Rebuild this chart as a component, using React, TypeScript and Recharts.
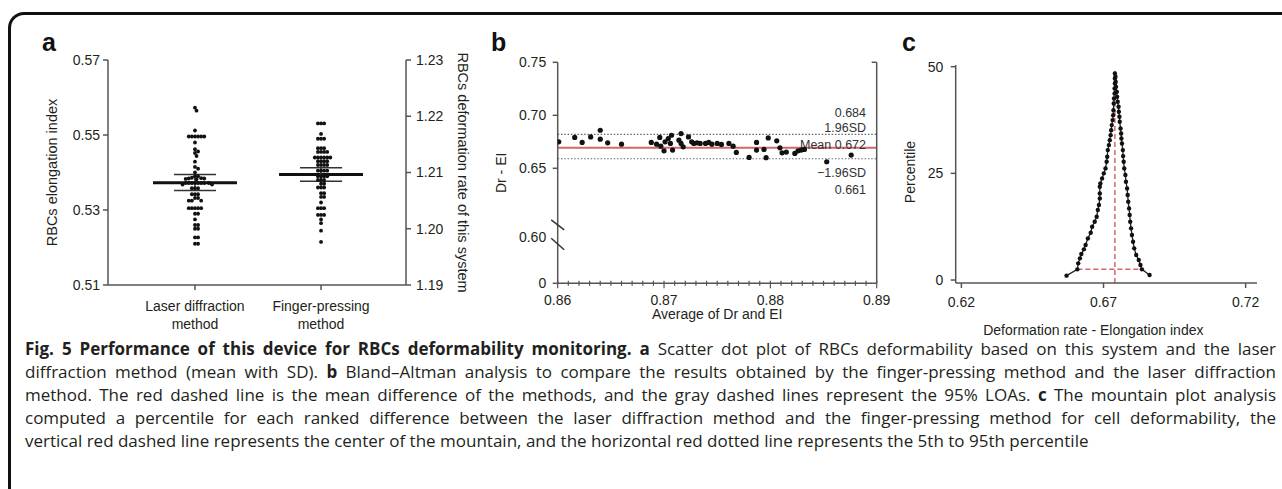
import React from 'react';
import { ComposedChart, Scatter, Line, XAxis, YAxis, ReferenceLine, Label } from 'recharts';

const TEXT = '#231f20';
const AXIS = '#555555';
const RED = '#d0686a';
const FONT = '"Liberation Sans", Arial, Helvetica, sans-serif';

// ---------------- Panel a: scatter dot plot ----------------
const groupTickLines = [
  ['Laser diffraction', 'method'],
  ['Finger-pressing', 'method'],
];
const laserEI = [
  0.5573, 0.5565, 0.5512, 0.5496, 0.5496, 0.5496, 0.5496, 0.5496, 0.5496, 0.548,
  0.5462, 0.5456, 0.5452, 0.5444, 0.5429, 0.5415, 0.541, 0.54, 0.539, 0.539,
  0.5386, 0.5385, 0.5384, 0.5384, 0.5383, 0.5382, 0.5372, 0.5372, 0.5372, 0.5372,
  0.5372, 0.5372, 0.5372, 0.5372, 0.5368, 0.5368, 0.5358, 0.5358, 0.5358, 0.5342,
  0.5342, 0.5342, 0.5332, 0.5332, 0.5325, 0.5325, 0.5325, 0.5305, 0.5305, 0.5305,
  0.5305, 0.5305, 0.529, 0.529, 0.5275, 0.526, 0.526, 0.525, 0.525, 0.5227,
  0.5227, 0.521, 0.521,
];
const fingerEI = [
  0.5531, 0.5531, 0.5531, 0.5503, 0.549, 0.549, 0.549, 0.5465, 0.5465, 0.5465,
  0.5455, 0.5455, 0.5455, 0.5455, 0.544, 0.544, 0.544, 0.544, 0.544, 0.544,
  0.543, 0.543, 0.543, 0.543, 0.542, 0.542, 0.542, 0.542, 0.5405, 0.5405,
  0.5405, 0.5405, 0.539, 0.539, 0.539, 0.539, 0.538, 0.538, 0.538, 0.537,
  0.537, 0.536, 0.536, 0.536, 0.5345, 0.5345, 0.5335, 0.5335, 0.532, 0.5305,
  0.5305, 0.5305, 0.5287, 0.5287, 0.5287, 0.5275, 0.5265, 0.5245, 0.5215,
];
const groupMean = [0.5373, 0.5395];
const groupSdLow = [0.5352, 0.5377];
const groupSdHigh = [0.5395, 0.5413];
const eiTicks = [0.51, 0.53, 0.55, 0.57];
const drTicks = [1.19, 1.2, 1.21, 1.22, 1.23];

// beeswarm layout (px metrics of panel a)
function swarm(values: number[], center: number) {
  const yPx = 3750;
  const xPx = 126.06;
  const d = 3.1;
  const placed: { x: number; y: number }[] = [];
  return [...values]
    .sort((a, b) => b - a)
    .map((v) => {
      const py = v * yPx;
      let chosen = 0;
      for (let i = 0; i < 80; i++) {
        const k = i === 0 ? 0 : (i % 2 === 1 ? 1 : -1) * Math.ceil(i / 2);
        const px = k * d * 0.5;
        if (placed.every((p) => (p.x - px) ** 2 + (p.y - py) ** 2 >= d * d)) {
          chosen = px;
          break;
        }
      }
      placed.push({ x: chosen, y: py });
      return { x: center + chosen / xPx, y: v };
    });
}
const laserPts = swarm(laserEI, 1);
const fingerPts = swarm(fingerEI, 2);

// ---------------- Panel b: Bland-Altman ----------------
const baAverage = [
  0.8601, 0.8616, 0.8623, 0.8631, 0.864, 0.864, 0.8647, 0.866, 0.8688, 0.8693,
  0.8696, 0.8697, 0.8701, 0.87, 0.8704, 0.8706, 0.8707, 0.8708, 0.8716, 0.8714,
  0.8716, 0.8718, 0.8723, 0.8726, 0.8728, 0.8731, 0.8734, 0.8739, 0.8742, 0.8745,
  0.875, 0.8754, 0.8761, 0.8765, 0.8768, 0.878, 0.8787, 0.8787, 0.8794, 0.8796,
  0.8798, 0.8806, 0.8809, 0.8811, 0.8815, 0.8823, 0.8826, 0.8829, 0.8832, 0.8853,
  0.8876,
];
const baDifference = [
  0.675, 0.6791, 0.6744, 0.6796, 0.6859, 0.6775, 0.674, 0.6728, 0.6744, 0.6728,
  0.6791, 0.6709, 0.675, 0.6665, 0.6781, 0.6735, 0.6812, 0.6672, 0.6828, 0.6765,
  0.6735, 0.6703, 0.6796, 0.675, 0.6735, 0.674, 0.6735, 0.6735, 0.6744, 0.6728,
  0.6735, 0.6725, 0.6735, 0.6709, 0.665, 0.6603, 0.6744, 0.6672, 0.6678, 0.66,
  0.6787, 0.6759, 0.6693, 0.6646, 0.6653, 0.664, 0.6665, 0.6672, 0.6678, 0.6562,
  0.6625,
];
const baUpperLimit = 0.682;
const baMeanLine = 0.6693;
const baLowerLimit = 0.659;
const baUpperText = ['0.684', '1.96SD'];
const baMeanText = ['Mean 0.672'];
const baLowerText = ['\u22121.96SD', '0.661'];
const baYTicks = [0, 0.6, 0.65, 0.7, 0.75];
const baXMajor = [0.86, 0.87, 0.88, 0.89];
const baXMinor = Array.from({ length: 31 }, (_, i) => 0.86 + i * 0.001);

// broken y axis: 0..0.60 compressed, 0.60..0.75 linear
const toBaAxis = (v: number) => (v <= 0.6 ? (v / 0.6) * 46 : 62 + (v - 0.6) * 1060);
const baTop = toBaAxis(0.75);
const baPts = baAverage.map((a, i) => ({ avg: a, d: toBaAxis(baDifference[i]) }));

// ---------------- Panel c: mountain plot ----------------
const mountainDiff = [
  0.657, 0.6608, 0.6611, 0.6617, 0.6622, 0.6631, 0.6637, 0.6645, 0.6655, 0.666,
  0.6669, 0.6676, 0.668, 0.6684, 0.6687, 0.6687, 0.6687, 0.6689, 0.6695, 0.6701,
  0.6707, 0.6711, 0.6713, 0.6715, 0.6719, 0.6722, 0.6725, 0.6727, 0.6729, 0.6732,
  0.6734, 0.6735, 0.6736, 0.6737, 0.6739, 0.6739, 0.674, 0.674, 0.674,
  0.6742, 0.6743, 0.6744, 0.6747, 0.6748, 0.675, 0.6753, 0.6754, 0.6756, 0.6757,
  0.676, 0.6762, 0.6763, 0.6765, 0.6768, 0.6769, 0.6771, 0.6773, 0.6777, 0.6779,
  0.6783, 0.6785, 0.6787, 0.679, 0.6792, 0.6794, 0.6797, 0.68, 0.6804, 0.6808,
  0.6815, 0.6824, 0.683, 0.6835, 0.6862,
];
const mountainPct = [
  1.02, 2.5, 3.91, 5.08, 6.09, 7.19, 8.2, 9.76, 11.09, 12.5,
  13.67, 14.84, 16.4, 17.57, 19.13, 20.3, 21.87, 22.65, 23.82, 25.0,
  26.16, 27.72, 28.89, 30.45, 31.62, 32.79, 33.96, 35.13, 36.31, 37.48,
  38.65, 39.82, 41.38, 42.55, 43.72, 44.89, 46.06, 47.23, 48.41,
  47.63, 46.45, 45.28, 44.11, 42.94, 41.77, 40.6, 39.43, 38.26, 37.09,
  35.52, 34.35, 33.18, 32.01, 30.45, 29.05, 27.72, 26.16, 24.6, 23.04,
  21.47, 19.91, 18.35, 16.79, 15.23, 13.67, 12.11, 10.54, 8.98, 7.42,
  5.86, 4.69, 3.52, 2.5, 1.18,
];
const mountainCenter = 0.674;
const mountainPeak = 49;
const mountainLow = 0.6608;
const mountainHigh = 0.6835;
const mountainBandPct = 2.5;
const mountainXTicks = [0.62, 0.67, 0.72];
const mountainYTicks = [0, 25, 50];
const mountainPts = mountainDiff.map((d, i) => ({ diff: d, pct: mountainPct[i] }));

// ---------------- helpers ----------------
const GroupTick = (props: any) => {
  const { x, y, payload } = props;
  const lines = groupTickLines[Math.round(payload.value) - 1] || ['', ''];
  return (
    <text x={x} y={y} textAnchor="middle" fill={TEXT} fontSize={14}>
      <tspan x={x} dy={15}>{lines[0]}</tspan>
      <tspan x={x} dy={17.5}>{lines[1]}</tspan>
    </text>
  );
};

const BaXTick = (props: any) => {
  const { x, y, payload } = props;
  const v = payload.value;
  const major = baXMajor.some((m) => Math.abs(m - v) < 1e-7);
  return (
    <g>
      <line x1={x} x2={x} y1={y - 2.5} y2={y + (major ? 5 : 2.5)} stroke={AXIS} strokeWidth={1.2} />
      {major && (
        <text x={x} y={y + 22} textAnchor="middle" fill={TEXT} fontSize={14}>
          {v.toFixed(2)}
        </text>
      )}
    </g>
  );
};

const BaYTick = (props: any) => {
  const { x, y, payload } = props;
  let idx = 0;
  baYTicks.forEach((t, i) => {
    if (Math.abs(toBaAxis(t) - payload.value) < Math.abs(toBaAxis(baYTicks[idx]) - payload.value)) idx = i;
  });
  const t = baYTicks[idx];
  const label = t === 0 ? '0' : t.toFixed(2);
  const isBreak = t === 0.6;
  return (
    <g>
      {!isBreak && <line x1={x - 5} x2={x} y1={y} y2={y} stroke={AXIS} strokeWidth={1.5} />}
      {isBreak && (
        <g stroke="#333" strokeWidth={1.5}>
          <line x1={x - 6.5} y1={y - 17.5} x2={x + 6.5} y2={y - 7.5} />
          <line x1={x - 6.5} y1={y + 1} x2={x + 6.5} y2={y + 12.5} />
        </g>
      )}
      <text x={x - 11.5} y={y + 5} textAnchor="end" fill={TEXT} fontSize={14}>
        {label}
      </text>
    </g>
  );
};

const BaRightTick = (props: any) => {
  const { x, y } = props;
  return <line x1={x - 5} x2={x} y1={y} y2={y} stroke={AXIS} strokeWidth={1.5} />;
};

const LimitLabel = (props: any) => {
  const { viewBox, texts, offsets } = props;
  if (!viewBox) return null;
  const xr = viewBox.x + viewBox.width - 10.7;
  return (
    <g>
      {texts.map((t: string, i: number) => (
        <text key={i} x={xr} y={viewBox.y + offsets[i]} textAnchor="end" fontSize={12.5} fill="#333">
          {t}
        </text>
      ))}
    </g>
  );
};

const dotA = (p: any) => <circle cx={p.cx} cy={p.cy} r={1.9} fill="#111" />;
const dotB = (p: any) => <circle cx={p.cx} cy={p.cy} r={2.6} fill="#111" />;
const dotC = (p: any) => <circle key={p.index} cx={p.cx} cy={p.cy} r={2.2} fill="#111" />;

const panelLetter = (x: number, letter: string) => (
  <div
    style={{
      position: 'absolute',
      left: x,
      top: 27,
      fontFamily: FONT,
      fontWeight: 700,
      fontSize: 25,
      color: '#111',
      lineHeight: '30px',
    }}
  >
    {letter}
  </div>
);

const captionLines: React.ReactNode[] = [
  <>
    <b>Fig. 5 Performance of this device for RBCs deformability monitoring.</b> <b>a</b> Scatter dot plot of RBCs deformability based on this system and the laser
  </>,
  <>
    diffraction method (mean with SD). <b>b</b> Bland–Altman analysis to compare the results obtained by the finger-pressing method and the laser diffraction
  </>,
  <>
    method. The red dashed line is the mean difference of the methods, and the gray dashed lines represent the 95% LOAs. <b>c</b> The mountain plot analysis
  </>,
  <>
    computed a percentile for each ranked difference between the laser diffraction method and the finger-pressing method for cell deformability, the
  </>,
  <>vertical red dashed line represents the center of the mountain, and the horizontal red dotted line represents the 5th to 95th percentile</>,
];

export default function App() {
  const tickStyle = { fill: TEXT, fontSize: 14 };
  return (
    <div
      style={{
        position: 'relative',
        width: 1282,
        height: 489,
        overflow: 'hidden',
        background: '#fff',
        fontFamily: FONT,
      }}
    >
      <style>{'body{margin:0;overflow:hidden;background:#fff}'}</style>
      <div
        style={{
          position: 'absolute',
          left: 8,
          top: 12,
          width: 1500,
          height: 700,
          borderTop: '3px solid #111',
          borderLeft: '3px solid #111',
          borderTopLeftRadius: 16,
          boxSizing: 'border-box',
        }}
      />
      {panelLetter(42, 'a')}
      {panelLetter(491, 'b')}
      {panelLetter(902, 'c')}

      {/* Panel a */}
      <div style={{ position: 'absolute', left: 0, top: 0 }}>
        <ComposedChart width={480} height={345} margin={{ top: 60, right: 0, bottom: 0, left: 0 }}>
          <XAxis
            xAxisId="cat"
            dataKey="x"
            type="number"
            domain={[0.31, 2.674]}
            ticks={[1, 2]}
            height={60}
            stroke={AXIS}
            strokeWidth={1.5}
            tickSize={5}
            tickMargin={6}
            tick={GroupTick}
            interval={0}
            allowDataOverflow
          />
          <YAxis
            yAxisId="ei"
            dataKey="y"
            type="number"
            domain={[0.51, 0.57]}
            ticks={eiTicks}
            width={108}
            stroke={AXIS}
            strokeWidth={1.5}
            tickSize={5}
            tickMargin={3}
            tick={tickStyle}
            tickFormatter={(v: number) => v.toFixed(2)}
            interval={0}
            allowDataOverflow
          >
            <Label value="RBCs elongation index" angle={-90} position="center" dx={-2} fill={TEXT} fontSize={14.5} />
          </YAxis>
          <YAxis
            yAxisId="dr"
            orientation="right"
            type="number"
            domain={[1.19, 1.23]}
            ticks={drTicks}
            width={74}
            stroke={AXIS}
            strokeWidth={1.5}
            tickSize={5}
            tickMargin={5}
            tick={tickStyle}
            tickFormatter={(v: number) => v.toFixed(2)}
            interval={0}
            allowDataOverflow
          >
            <Label value="RBCs deformation rate of this system" angle={90} position="center" dx={20} fill={TEXT} fontSize={14.5} />
          </YAxis>
          <Scatter xAxisId="cat" yAxisId="ei" data={laserPts} dataKey="y" shape={dotA} isAnimationActive={false} />
          <Scatter xAxisId="cat" yAxisId="ei" data={fingerPts} dataKey="y" shape={dotA} isAnimationActive={false} />
          {groupMean.map((m, i) => (
            <ReferenceLine
              key={'m' + i}
              xAxisId="cat"
              yAxisId="ei"
              segment={[
                { x: i + 1 - 0.333, y: m },
                { x: i + 1 + 0.333, y: m },
              ]}
              stroke="#111"
              strokeWidth={3}
            />
          ))}
          {groupMean.map((_, i) => (
            <ReferenceLine
              key={'h' + i}
              xAxisId="cat"
              yAxisId="ei"
              segment={[
                { x: i + 1 - 0.167, y: groupSdHigh[i] },
                { x: i + 1 + 0.167, y: groupSdHigh[i] },
              ]}
              stroke="#333"
              strokeWidth={1.5}
            />
          ))}
          {groupMean.map((_, i) => (
            <ReferenceLine
              key={'l' + i}
              xAxisId="cat"
              yAxisId="ei"
              segment={[
                { x: i + 1 - 0.167, y: groupSdLow[i] },
                { x: i + 1 + 0.167, y: groupSdLow[i] },
              ]}
              stroke="#333"
              strokeWidth={1.5}
            />
          ))}
          {groupMean.map((_, i) => (
            <ReferenceLine
              key={'v' + i}
              xAxisId="cat"
              yAxisId="ei"
              segment={[
                { x: i + 1, y: groupSdLow[i] },
                { x: i + 1, y: groupSdHigh[i] },
              ]}
              stroke="#333"
              strokeWidth={1.5}
            />
          ))}
        </ComposedChart>
      </div>

      {/* Panel b */}
      <div style={{ position: 'absolute', left: 470, top: 0 }}>
        <ComposedChart width={430} height={340} margin={{ top: 62.3, right: 0, bottom: 0, left: 0 }}>
          <XAxis
            xAxisId="avg"
            dataKey="avg"
            type="number"
            domain={[0.86, 0.89]}
            ticks={baXMinor}
            interval={0}
            height={56.7}
            stroke={AXIS}
            strokeWidth={1.5}
            tickLine={false}
            tickSize={0}
            tickMargin={0}
            tick={BaXTick}
            allowDataOverflow
          >
            <Label value="Average of Dr and EI" position="center" dy={2.5} fill={TEXT} fontSize={14} />
          </XAxis>
          <YAxis
            yAxisId="l"
            dataKey="d"
            type="number"
            domain={[0, baTop]}
            ticks={baYTicks.map(toBaAxis)}
            interval={0}
            width={87.7}
            stroke={AXIS}
            strokeWidth={1.5}
            tickLine={false}
            tickSize={0}
            tickMargin={0}
            tick={BaYTick}
            allowDataOverflow
          >
            <Label value="Dr - EI" angle={-90} position="center" dx={-12.8} fill={TEXT} fontSize={14} />
          </YAxis>
          <YAxis
            yAxisId="r"
            orientation="right"
            type="number"
            domain={[0, baTop]}
            ticks={[baTop]}
            interval={0}
            width={23.3}
            stroke={AXIS}
            strokeWidth={1.5}
            tickLine={false}
            tickSize={0}
            tickMargin={0}
            tick={BaRightTick}
            allowDataOverflow
          />
          <ReferenceLine
            xAxisId="avg"
            yAxisId="l"
            y={toBaAxis(baUpperLimit)}
            stroke="#666"
            strokeWidth={1.2}
            strokeDasharray="1.5 1.8"
            label={<LimitLabel texts={baUpperText} offsets={[-17.8, -2.8]} />}
          />
          <ReferenceLine
            xAxisId="avg"
            yAxisId="l"
            y={toBaAxis(baLowerLimit)}
            stroke="#666"
            strokeWidth={1.2}
            strokeDasharray="1.5 1.8"
            label={<LimitLabel texts={baLowerText} offsets={[17.8, 34.8]} />}
          />
          <Scatter xAxisId="avg" yAxisId="l" data={baPts} dataKey="d" shape={dotB} isAnimationActive={false} />
          <ReferenceLine
            xAxisId="avg"
            yAxisId="l"
            y={toBaAxis(baMeanLine)}
            stroke={RED}
            strokeWidth={2}
            label={<LimitLabel texts={baMeanText} offsets={[0.8]} />}
          />
        </ComposedChart>
      </div>

      {/* Panel c */}
      <div style={{ position: 'absolute', left: 880, top: 0 }}>
        <ComposedChart width={402} height={345} margin={{ top: 65, right: 25, bottom: 0, left: 0 }} data={mountainPts}>
          <XAxis
            dataKey="diff"
            type="number"
            domain={[0.618, 0.724]}
            ticks={mountainXTicks}
            interval={0}
            height={62}
            stroke={AXIS}
            strokeWidth={1.5}
            tickSize={5}
            tickMargin={8.7}
            tick={tickStyle}
            tickFormatter={(v: number) => v.toFixed(2)}
            allowDataOverflow
          >
            <Label value="Deformation rate - Elongation index" position="center" dx={-13} dy={16} fill={TEXT} fontSize={14} />
          </XAxis>
          <YAxis
            type="number"
            domain={[-0.7, 50.4]}
            ticks={mountainYTicks}
            interval={0}
            width={75.7}
            stroke={AXIS}
            strokeWidth={1.5}
            tickSize={5}
            tickMargin={7.4}
            tick={tickStyle}
            allowDataOverflow
          >
            <Label value="Percentile" angle={-90} position="center" dx={-8} dy={-2} fill={TEXT} fontSize={14} />
          </YAxis>
          <Line
            dataKey="pct"
            type="linear"
            stroke="#222"
            strokeWidth={1.3}
            dot={dotC}
            activeDot={false}
            isAnimationActive={false}
          />
          <ReferenceLine
            segment={[
              { x: mountainCenter, y: -0.7 },
              { x: mountainCenter, y: mountainPeak },
            ]}
            stroke={RED}
            strokeWidth={1.5}
            strokeDasharray="5 3"
          />
          <ReferenceLine
            segment={[
              { x: mountainLow, y: mountainBandPct },
              { x: mountainHigh, y: mountainBandPct },
            ]}
            stroke={RED}
            strokeWidth={1.5}
            strokeDasharray="5 3"
          />
        </ComposedChart>
      </div>

      {/* Caption */}
      {captionLines.map((line, i) => (
        <div
          key={i}
          style={{
            position: 'absolute',
            left: 25,
            top: 337 + i * 23,
            width: 1251,
            fontFamily: '"Open Sans", "Noto Sans", sans-serif',
            fontSize: 17,
            lineHeight: '23px',
            color: TEXT,
            whiteSpace: 'nowrap',
            textAlign: i < captionLines.length - 1 ? 'justify' : 'left',
            textAlignLast: i < captionLines.length - 1 ? 'justify' : 'left',
          }}
        >
          {line}
        </div>
      ))}
    </div>
  );
}
